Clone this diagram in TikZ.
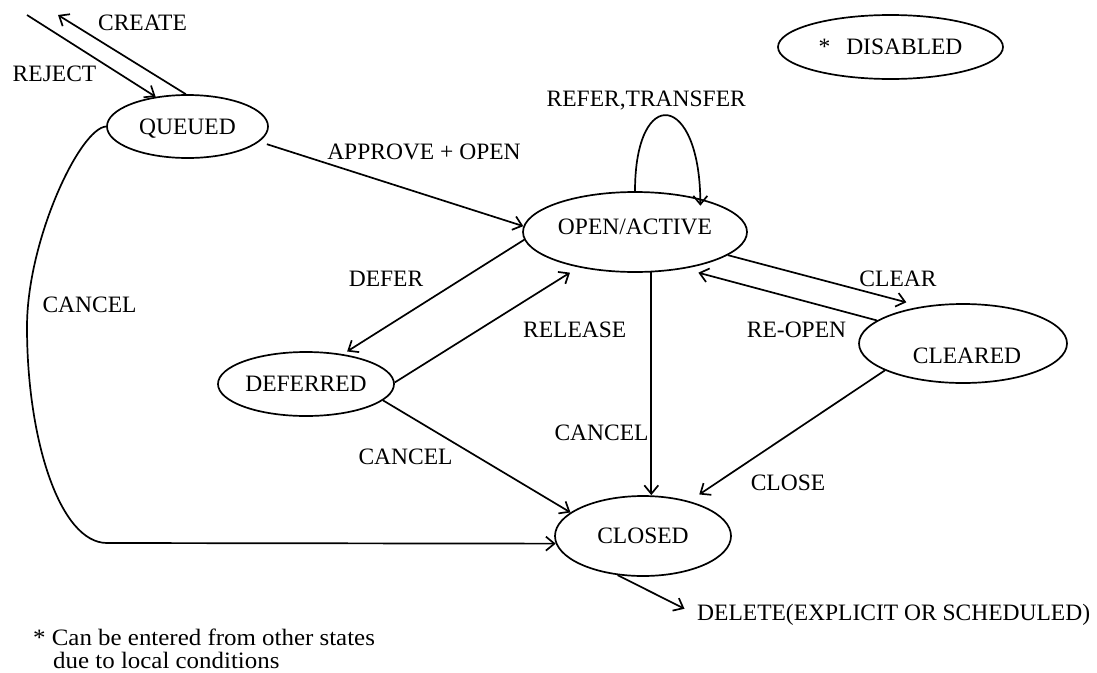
\documentclass[tikz,border=0pt]{standalone}
\usepackage{fontspec}
\setmainfont{Liberation Serif}
\newfontfamily\notefont[FakeStretch=1.06]{Liberation Serif}
\usetikzlibrary{shapes.geometric,arrows.meta}
\begin{document}
\begin{tikzpicture}[x=1pt,y=-1pt,
  every node/.style={font=\fontsize{23.5}{28}\selectfont},
  state/.style={ellipse,draw,line width=1.7pt,inner sep=0pt,
                text height=15.4pt,text depth=0pt},
  lbl/.style={inner sep=0pt},
  note/.style={inner sep=0pt,anchor=base west,font=\notefont\fontsize{23.5}{26}\selectfont},
  conn/.style={line width=1.7pt,-{Straight Barb[length=8.5pt,width=14pt]}}]
\useasboundingbox (0,0) rectangle (1097,672);

% states
\node[state,minimum width=161pt,minimum height=63pt] (queued) at (187.5,126.5) {QUEUED};
\node[state,minimum width=224pt,minimum height=80pt,text depth=10pt] (open) at (635,232) {OPEN/ACTIVE};
\node[state,minimum width=176pt,minimum height=64pt] (deferred) at (306,384) {DEFERRED};
\node[state,minimum width=208pt,minimum height=79pt,text height=40.6pt] (cleared) at (963,343.5) {\hspace*{8pt}CLEARED};
\node[state,minimum width=176pt,minimum height=80pt] (closed) at (643,536) {CLOSED};
\node[state,minimum width=225pt,minimum height=64pt] (disabled) at (890.5,47) {*\hspace{16pt}DISABLED};

% free ends and bends
\coordinate (rejfrom) at (27,15);
\coordinate (createto) at (58,15);
\coordinate (cbend) at (27,327);
\coordinate (ccorner) at (107,543);

% transitions
\draw[conn] (rejfrom) -- (queued.137);
\draw[conn] (queued.93) -- (createto);
\draw[conn,shorten <=8pt] (queued.348) -- (open.177);
\draw[conn] (open.north) .. controls +(0,-107) and +(0,-114) .. ([yshift=-7pt]open.27);
\draw[conn,shorten >=5pt] (open.184) -- (deferred.39);
\draw[conn,shorten >=10pt] (deferred.1) -- (open.212);
\draw[conn,shorten >=16pt] (open.346) -- (cleared.138);
\draw[conn,shorten >=15pt] (cleared.165) -- (open.323);
\draw[conn] (open.292) -- (open.292 |- closed.north);
\draw[conn,shorten >=12pt] (cleared.199) -- (closed.37);
\draw[conn] (deferred.348) -- (closed.162);
\draw[conn] (queued.west) .. controls (80,128) and (27,240) .. (cbend)
            .. controls (27,440) and (60,543) .. (ccorner) -- (closed.185);

% transition labels
\node[lbl,anchor=base] (lcreate) at (142.5,30.7) {CREATE};
\node[lbl,anchor=base] (lreject) at (54.5,81.7) {REJECT};
\node[lbl,anchor=base] (lapprove) at (424,159.7) {APPROVE + OPEN};
\node[lbl,anchor=base east] (lrefer) at (746,106.7) {REFER,TRANSFER};
\node[lbl,anchor=base] (ldefer) at (386,286.7) {DEFER};
\node[lbl,anchor=base west] (lrelease) at (523,337.7) {RELEASE};
\node[lbl,anchor=base] (lclear) at (898,286.7) {CLEAR};
\node[lbl,anchor=base] (lreopen) at (796.5,337.7) {RE-OPEN};
\node[lbl,anchor=base] (lcancela) at (89.5,312.7) {CANCEL};
\node[lbl,anchor=base] (lcancelb) at (405.5,464.7) {CANCEL};
\node[lbl,anchor=base] (lcancelc) at (601.5,440.7) {CANCEL};
\node[lbl,anchor=base] (lclose) at (788,490.7) {CLOSE};
\node[lbl,anchor=base west] (delete) at (697,620.7) {DELETE(EXPLICIT OR SCHEDULED)};
\draw[conn,shorten >=14pt] (closed.237) -- (delete.west);

% footnote
\node[note] (notea) at (33,645) {* Can be entered from other states};
\node[note] (noteb) at (53,668) {due to local conditions};
\end{tikzpicture}
\end{document}
